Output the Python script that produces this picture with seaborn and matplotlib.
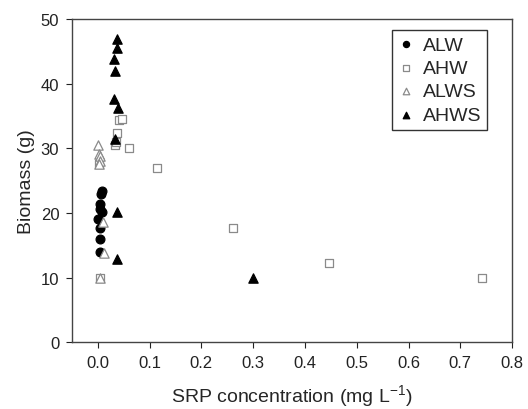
import pandas as pd
import matplotlib.pyplot as plt
import seaborn as sns

alw_x = [0.008, 0.007, 0.005, 0.004, 0.009, 0.001, 0.004, 0.005, 0.004]
alw_y = [23.4, 22.9, 21.4, 20.6, 20.2, 19.0, 17.7, 15.9, 13.9]

ahw_x = [0.042, 0.047, 0.037, 0.033, 0.061, 0.115, 0.262, 0.447, 0.741, 0.036, 0.003, 0.005]
ahw_y = [34.4, 34.6, 32.3, 30.5, 30.0, 26.9, 17.6, 12.3, 9.9, 31.0, 27.6, 10.0]

alws_x = [0.000, 0.003, 0.005, 0.004, 0.003, 0.010, 0.013, 0.005]
alws_y = [30.5, 29.1, 28.8, 28.1, 27.6, 18.6, 13.8, 9.9]

ahws_x = [0.037, 0.038, 0.032, 0.034, 0.032, 0.040, 0.034, 0.037, 0.037, 0.300]
ahws_y = [46.9, 45.6, 43.8, 42.0, 37.6, 36.3, 31.5, 20.1, 12.8, 10.0]

frames = []
for name, xs, ys in [("ALW", alw_x, alw_y), ("AHW", ahw_x, ahw_y),
                     ("ALWS", alws_x, alws_y), ("AHWS", ahws_x, ahws_y)]:
    frames.append(pd.DataFrame({"SRP": xs, "Biomass": ys, "group": name}))
df = pd.concat(frames, ignore_index=True)

sns.set_style("ticks")
plt.rcParams["font.family"] = ["Liberation Sans", "DejaVu Sans"]
plt.rcParams["mathtext.fontset"] = "custom"
plt.rcParams["mathtext.rm"] = "Liberation Sans"

fig = plt.figure(figsize=(5.28, 4.10), dpi=100)
ax = fig.add_axes([0.136, 0.163, 0.834, 0.788])

styles = {
    "ALW": dict(marker="o", facecolor="black", edgecolor="black", s=40),
    "AHW": dict(marker="s", facecolor="white", edgecolor="#8a8a8a", s=30),
    "ALWS": dict(marker="^", facecolor="white", edgecolor="#8a8a8a", s=45),
    "AHWS": dict(marker="^", facecolor="black", edgecolor="black", s=45),
}
for name in ["ALW", "AHW", "ALWS", "AHWS"]:
    st = styles[name]
    sns.scatterplot(
        data=df[df["group"] == name],
        x="SRP",
        y="Biomass",
        marker=st["marker"],
        facecolor=st["facecolor"],
        edgecolor=st["edgecolor"],
        s=st["s"],
        linewidth=0.9,
        label=name,
        ax=ax,
        zorder=3,
    )

ax.set_xlim(-0.05, 0.8)
ax.set_ylim(0, 50)
ax.set_xticks([0.0, 0.1, 0.2, 0.3, 0.4, 0.5, 0.6, 0.7, 0.8])
ax.set_yticks([0, 10, 20, 30, 40, 50])
ax.tick_params(direction="out", length=4, width=0.8, labelsize=12, colors="#222222", pad=5)
for sp in ax.spines.values():
    sp.set_visible(True)
    sp.set_linewidth(1.0)
    sp.set_color("#444444")

ax.set_xlabel("SRP concentration (mg L$^{\\mathrm{-1}}$)", fontsize=14, labelpad=9)
ax.set_ylabel("Biomass (g)", fontsize=14, labelpad=4)

leg = ax.legend(loc="upper right", bbox_to_anchor=(0.943, 0.966), fontsize=14,
                frameon=True, fancybox=False, handletextpad=0.4,
                borderpad=0.3, labelspacing=0.3, handlelength=0.9,
                markerscale=0.7, borderaxespad=0.0)
leg.get_frame().set_edgecolor("black")
leg.get_frame().set_linewidth(1.0)

fig.savefig("out.png", dpi=100)
